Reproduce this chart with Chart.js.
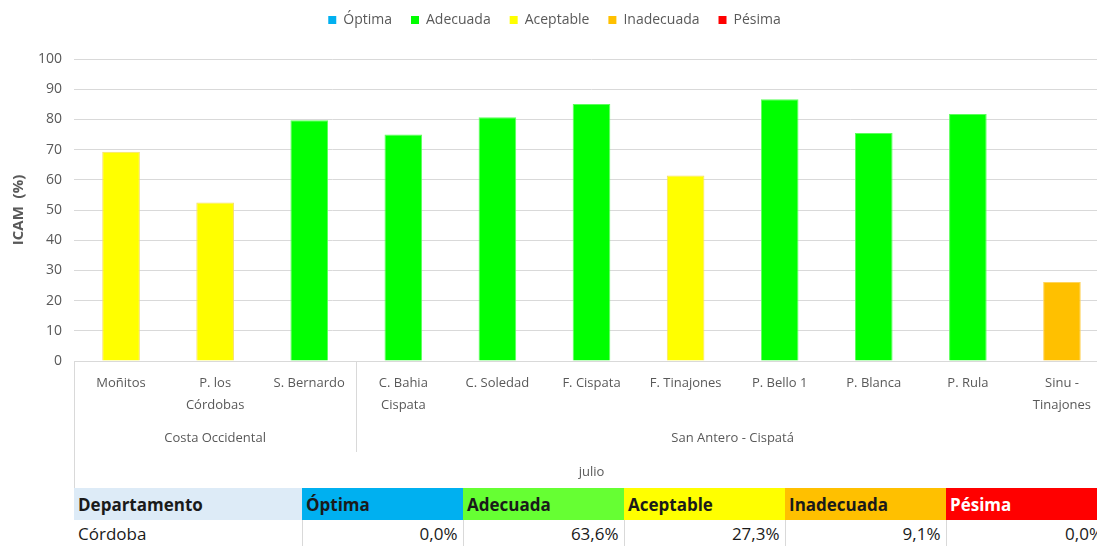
<!doctype html>
<html>

<head>
  <title>ICAM julio</title>
  <script src="https://cdn.jsdelivr.net/npm/chart.js@4.4.1/dist/chart.umd.min.js"></script>
  <style>
    html, body {
      margin: 0;
      padding: 0;
      width: 1097px;
      height: 546px;
      overflow: hidden;
      background: #fff;
      font-family: "Open Sans", sans-serif;
    }
    .wrap {
      position: relative;
      width: 1097px;
      height: 546px;
      overflow: hidden;
    }
    canvas {
      display: block;
      position: absolute;
      left: 0;
      top: 0;
    }
    table.summary {
      position: absolute;
      left: 74px;
      top: 488px;
      border-collapse: collapse;
      table-layout: fixed;
      width: 1034px;
      font-size: 17px;
      color: #1a1a1a;
    }
    table.summary th {
      height: 32px;
      padding: 0 4px;
      text-align: left;
      font-weight: bold;
    }
    table.summary td {
      height: 26px;
      padding: 0 5px 0 4px;
      text-align: right;
      border-left: 1px solid #d9d9d9;
    }
    table.summary td:first-child {
      text-align: left;
      border-left: none;
    }
  </style>
</head>

<body>
  <div class="wrap">
    <canvas id="myChart" width="1112" height="488"></canvas>
    <table class="summary" id="summary"></table>
  </div>

  <script>
    // estaciones y valores ICAM (%) - julio
    var stations = [
      'Moñitos', ['P. los', 'Córdobas'], 'S. Bernardo',
      ['C. Bahia', 'Cispata'], 'C. Soledad', 'F. Cispata', 'F. Tinajones',
      'P. Bello 1', 'P. Blanca', 'P. Rula', ['Sinu -', 'Tinajones']
    ];
    var icam = [69.3, 52.5, 79.7, 75.0, 80.7, 85.1, 61.4, 86.7, 75.5, 81.8, 26.2];
    var quality = [
      'Aceptable', 'Aceptable', 'Adecuada',
      'Adecuada', 'Adecuada', 'Adecuada', 'Aceptable',
      'Adecuada', 'Adecuada', 'Adecuada', 'Inadecuada'
    ];

    var groupNames = ['Costa Occidental', 'San Antero - Cispatá'];
    var groupSizes = [3, 8];
    var month = 'julio';

    var classes = ['Óptima', 'Adecuada', 'Aceptable', 'Inadecuada', 'Pésima'];
    var classColors = ['#00B0F0', '#00FF00', '#FFFF00', '#FFC000', '#FF0000'];
    var classBorders = ['#40C4F4', '#5CFF5C', '#F6DC6A', '#FFD45C', '#FF4040'];

    // tabla resumen
    var tableHead = ['Departamento'].concat(classes);
    var headColors = ['#DDEBF7', '#00B0F0', '#66FF33', '#FFFF00', '#FFC000', '#FF0000'];
    var tableRow = ['Córdoba', '0,0%', '63,6%', '27,3%', '9,1%', '0,0%'];
    var colWidths = [228, 161, 161, 161, 161, 162];

    function colorOf(q) {
      return classColors[classes.indexOf(q)];
    }
    function borderOf(q) {
      return classBorders[classes.indexOf(q)];
    }

    var legendHeight = {
      id: 'legendHeight',
      beforeInit: function(chart) {
        var fit = chart.legend.fit;
        chart.legend.fit = function() {
          fit.call(this);
          this.height = 65;
        };
      }
    };

    var groupLabels = {
      id: 'groupLabels',
      afterDraw: function(chart) {
        var ctx = chart.ctx;
        var x = chart.scales.x;
        var bottom = chart.chartArea.bottom;
        var step = x.width / stations.length;
        var start = 0;
        ctx.save();
        ctx.strokeStyle = '#d9d9d9';
        ctx.lineWidth = 1;
        ctx.fillStyle = '#595959';
        ctx.font = '13px "Open Sans"';
        ctx.textAlign = 'center';
        ctx.textBaseline = 'middle';
        groupNames.forEach(function(name, g) {
          var left = x.getPixelForValue(start) - step / 2;
          var right = x.getPixelForValue(start + groupSizes[g] - 1) + step / 2;
          var lx = Math.round(left) + 0.5;
          ctx.beginPath();
          ctx.moveTo(lx, bottom);
          ctx.lineTo(lx, g === 0 ? chart.height : bottom + 91);
          ctx.stroke();
          ctx.fillText(name, (left + right) / 2, bottom + 77);
          start += groupSizes[g];
        });
        ctx.fillText(month, (x.left + x.right) / 2, bottom + 111);
        ctx.restore();
      }
    };

    var config = {
      type: 'bar',
      data: {
        labels: stations,
        datasets: [{
          label: 'ICAM',
          data: icam,
          backgroundColor: quality.map(colorOf),
          borderColor: quality.map(borderOf),
          borderWidth: 1,
          barPercentage: 0.4,
          categoryPercentage: 1
        }]
      },
      options: {
        responsive: false,
        animation: false,
        devicePixelRatio: 1,
        layout: {
          padding: { top: -6, left: 0, right: 3, bottom: 0 }
        },
        scales: {
          x: {
            grid: { display: false, drawTicks: false },
            border: { display: true, color: '#d9d9d9' },
            ticks: {
              autoSkip: false,
              maxRotation: 0,
              padding: 11,
              color: '#595959',
              font: { family: 'Open Sans', size: 13, lineHeight: 1.7 }
            },
            afterFit: function(scale) {
              scale.height = 127;
            }
          },
          y: {
            min: 0,
            max: 100,
            grid: { color: '#d9d9d9', drawTicks: false },
            border: { display: false },
            ticks: {
              stepSize: 10,
              padding: 12,
              color: '#595959',
              font: { family: 'Open Sans', size: 14 }
            },
            title: {
              display: true,
              text: 'ICAM  (%)',
              color: '#595959',
              padding: { top: 10, bottom: 0 },
              font: { family: 'Open Sans', size: 15, weight: 'bold' }
            },
            afterFit: function(scale) {
              scale.width = 74;
            }
          }
        },
        plugins: {
          legend: {
            display: true,
            onClick: function() {},
            labels: {
              padding: 19,
              boxWidth: 8,
              boxHeight: 8,
              color: '#595959',
              font: { family: 'Open Sans', size: 14 },
              generateLabels: function() {
                return classes.map(function(c, i) {
                  return {
                    text: c,
                    fillStyle: classColors[i],
                    strokeStyle: classColors[i],
                    fontColor: '#595959',
                    lineWidth: 0,
                    hidden: false,
                    index: i
                  };
                });
              }
            }
          },
          tooltip: { enabled: false }
        }
      },
      plugins: [legendHeight, groupLabels]
    };

    function buildTable() {
      var table = document.getElementById('summary');
      var colgroup = document.createElement('colgroup');
      colWidths.forEach(function(w) {
        var col = document.createElement('col');
        col.style.width = w + 'px';
        colgroup.appendChild(col);
      });
      table.appendChild(colgroup);
      var head = document.createElement('tr');
      tableHead.forEach(function(t, i) {
        var th = document.createElement('th');
        th.textContent = t;
        th.style.background = headColors[i];
        if (t === 'Pésima') th.style.color = '#fff';
        head.appendChild(th);
      });
      table.appendChild(head);
      var row = document.createElement('tr');
      tableRow.forEach(function(t) {
        var td = document.createElement('td');
        td.textContent = t;
        row.appendChild(td);
      });
      table.appendChild(row);
    }

    window.onload = function() {
      buildTable();
      var ctx = document.getElementById('myChart').getContext('2d');
      window.myChart = new Chart(ctx, config);
    };
  </script>
</body>

</html>
